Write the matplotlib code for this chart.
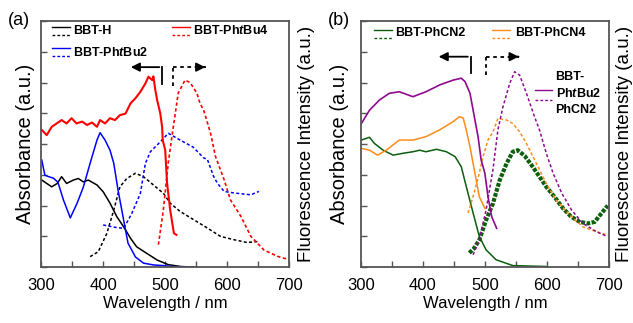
import matplotlib
matplotlib.use("Agg")
import matplotlib.pyplot as plt
import numpy as np

plt.rcParams['font.family'] = ['Liberation Sans', 'DejaVu Sans']
plt.rcParams['mathtext.fontset'] = 'custom'
plt.rcParams['mathtext.it'] = 'Liberation Sans:italic:bold'
plt.rcParams['mathtext.rm'] = 'Liberation Sans:bold'

# ---- panel (a) data (wavelength nm, normalised intensity) ----
h_abs_x = [301, 309, 317, 326, 333, 341, 352, 360, 368, 376, 390, 400, 411, 422, 433, 444, 454, 470, 487, 505, 525, 546]
h_abs_y = [2.83, 2.72, 2.61, 2.72, 2.94, 2.72, 2.83, 2.88, 2.77, 2.83, 2.67, 2.45, 2.08, 1.64, 1.31, 0.94, 0.66, 0.45, 0.23, 0.08, 0.02, 0.0]
h_fl_x = [379, 392, 406, 417, 427, 438, 452, 465, 481, 497, 508, 524, 546, 568, 589, 611, 632, 649]
h_fl_y = [0.34, 0.5, 1.1, 1.85, 2.61, 2.88, 3.05, 2.94, 2.67, 2.4, 2.08, 1.81, 1.54, 1.27, 1.0, 0.89, 0.8, 0.83]

tbu2_abs_x = [301, 306, 312, 320, 327, 336, 347, 358, 368, 379, 390, 395, 403, 411, 417, 424, 433, 440, 452, 465, 481, 497, 510, 551]
tbu2_abs_y = [3.48, 2.99, 2.94, 2.89, 2.76, 2.18, 1.6, 2.08, 2.6, 3.38, 4.13, 4.37, 4.13, 3.8, 3.38, 2.5, 1.53, 0.78, 0.33, 0.13, 0.07, 0.05, 0.02, 0.0]
tbu2_fl_x = [400, 417, 433, 446, 460, 468, 476, 492, 505, 524, 545, 562, 568, 578, 584, 595, 611, 638, 651]
tbu2_fl_y = [1.37, 1.3, 1.26, 1.74, 2.4, 3.37, 3.75, 4.07, 4.35, 4.13, 3.9, 3.55, 3.5, 2.95, 2.73, 2.46, 2.41, 2.35, 2.46]

tbu4_abs_x = [301, 309, 317, 325, 333, 341, 349, 357, 366, 374, 382, 390, 395, 403, 411, 419, 427, 436, 444, 452,
              460, 468, 473, 479, 481, 484, 487, 492, 495, 496, 500, 503, 508, 514, 518]
tbu4_abs_y = [4.46, 4.29, 4.56, 4.67, 4.78, 4.67, 4.84, 4.67, 4.73, 4.62, 4.7, 4.56, 4.78, 4.67, 4.84, 4.78, 4.94, 4.99, 5.32, 5.49,
              5.7, 5.97, 6.19, 6.08, 6.2, 5.76, 5.43, 5.0, 4.56, 4.13, 3.8, 2.73, 1.86, 1.1, 1.05]
tbu4_fl_x = [489, 497, 505, 513, 521, 532, 540, 551, 556, 562, 573, 581, 595, 605, 622, 638, 659, 681, 700]
tbu4_fl_y = [0.73, 1.86, 3.4, 4.55, 5.66, 6.08, 6.0, 5.66, 5.33, 5.1, 4.36, 3.6, 2.84, 2.19, 1.65, 1.0, 0.56, 0.35, 0.24]

# ---- panel (b) data ----
cn2_abs_x = [301, 314, 322, 336, 352, 368, 384, 395, 405, 422, 438, 452, 462, 470, 481, 491, 502, 518, 545, 599]
cn2_abs_y = [4.13, 4.22, 4.02, 3.8, 3.64, 3.7, 3.75, 3.8, 3.75, 3.83, 3.75, 3.59, 3.26, 2.62, 1.76, 1.0, 0.56, 0.24, 0.05, 0.02]
cn2_fl_x = [475, 482, 491, 502, 513, 524, 535, 545, 553, 564, 575, 588, 599, 612, 626, 639, 653, 666, 677, 688, 698]
cn2_fl_y = [0.46, 0.6, 0.88, 1.53, 2.07, 2.83, 3.37, 3.75, 3.8, 3.62, 3.32, 2.94, 2.61, 2.29, 1.91, 1.64, 1.47, 1.42, 1.47, 1.75, 2.0]

cn4_abs_x = [301, 314, 327, 341, 362, 384, 405, 427, 449, 459, 465, 470, 476, 481, 491, 500]
cn4_abs_y = [3.86, 3.8, 3.64, 3.8, 4.13, 4.13, 4.24, 4.46, 4.73, 4.89, 4.85, 4.46, 3.91, 3.37, 2.29, 1.91]
cn4_fl_x = [473, 481, 491, 497, 505, 513, 521, 535, 545, 556, 567, 583, 599, 615, 637, 658, 680, 698]
cn4_fl_y = [1.76, 2.3, 3.05, 3.59, 4.13, 4.4, 4.83, 4.78, 4.67, 4.4, 4.02, 3.37, 2.72, 2.18, 1.69, 1.31, 1.15, 1.04]

mix_abs_x = [301, 314, 330, 346, 362, 384, 405, 427, 449, 462, 468, 476, 483, 489, 494, 500, 505, 511, 519]
mix_abs_y = [4.67, 5.1, 5.43, 5.65, 5.7, 5.54, 5.7, 5.92, 6.08, 6.14, 6.03, 5.65, 4.89, 4.24, 3.48, 3.05, 2.29, 1.64, 1.26]
mix_fl_x = [481, 491, 502, 513, 521, 529, 540, 548, 556, 567, 580, 588, 599, 610, 624, 640, 658, 680, 698]
mix_fl_y = [0.4, 0.89, 1.86, 3.17, 4.46, 5.2, 5.97, 6.35, 6.24, 5.65, 4.89, 4.46, 3.7, 3.05, 2.4, 1.85, 1.42, 1.15, 0.99]

BLACK, BLUE, RED = 'black', '#0000ff', '#ff0000'
GREEN, ORANGE, PURPLE = '#0d5e0d', '#ff8c1a', '#8e0a8e'

fig = plt.figure(figsize=(6.33, 3.23), dpi=100)
ax1 = fig.add_axes([0.065, 0.173, 0.392, 0.762])
ax2 = fig.add_axes([0.570, 0.173, 0.392, 0.762])


def style(ax, lpad, rpad):
    ax.set_xlim(300, 700)
    ax.set_ylim(0, 8)
    ax.set_xticks(np.arange(300, 701, 100))
    ax.set_xticks(np.arange(350, 700, 100), minor=True)
    ax.set_yticks(np.arange(0, 9, 1))
    ax.set_yticklabels([])
    ax.tick_params(axis='x', which='both', direction='in', length=4, width=1, colors='#555555',
                   labelcolor='black', labelsize=12, pad=8)
    ax.tick_params(axis='y', direction='in', length=4, width=1, left=True, right=True, colors='#555555')
    for s in ax.spines.values():
        s.set_color('#555555')
        s.set_linewidth(1.3)
    ax.set_xlabel('Wavelength / nm', fontsize=12, labelpad=2)
    ax.set_ylabel('Absorbance (a.u.)', fontsize=14.5, labelpad=lpad)
    ax2r = ax.twinx()
    ax2r.set_ylim(0, 8)
    ax2r.set_yticks([])
    ax2r.set_ylabel('Fluorescence Intensity (a.u.)', fontsize=13.5, labelpad=rpad)
    for s in ax2r.spines.values():
        s.set_visible(False)


def arrows(ax, xl, xl_tip, yl0, xr, xr_tip, yr0, ytop):
    ax.plot([xl, xl], [yl0, ytop], color='black', lw=1.3)
    ax.annotate('', xy=(xl_tip, ytop), xytext=(xl, ytop),
                arrowprops=dict(arrowstyle='-|>', color='black', lw=1.3, mutation_scale=13))
    ax.plot([xr, xr], [yr0, ytop], color='black', lw=1.3, ls=(0, (2, 2)))
    ax.plot([xr, xr_tip - 10], [ytop, ytop], color='black', lw=1.3, ls=(0, (2, 2)))
    ax.annotate('', xy=(xr_tip, ytop), xytext=(xr_tip - 10, ytop),
                arrowprops=dict(arrowstyle='-|>', color='black', lw=1.3, mutation_scale=13))


def legend_entry(ax, x0, x1, y_solid, y_dash, color, tx, ty, text):
    ax.plot([x0, x1], [y_solid, y_solid], color=color, lw=1)
    ax.plot([x0, x1], [y_dash, y_dash], color=color, lw=1, ls=(0, (2, 1.5)))
    ax.text(tx, ty, text, fontsize=9, fontweight='bold', va='center', ha='left')


# ---- panel (a) ----
style(ax1, 1, 6)
ax1.plot(h_abs_x, h_abs_y, color=BLACK, lw=1.1)
ax1.plot(h_fl_x, h_fl_y, color=BLACK, lw=1.1, ls=(0, (2, 1.5)))
ax1.plot(tbu2_abs_x, tbu2_abs_y, color=BLUE, lw=1.1)
ax1.plot(tbu2_fl_x, tbu2_fl_y, color=BLUE, lw=1.1, ls=(0, (2, 1.5)))
ax1.plot(tbu4_abs_x, tbu4_abs_y, color=RED, lw=1.5)
ax1.plot(tbu4_fl_x, tbu4_fl_y, color=RED, lw=1.2, ls=(0, (2, 1.5)))
arrows(ax1, 495, 440, 5.95, 513, 569, 5.89, 6.5)
legend_entry(ax1, 318, 347, 7.8, 7.56, BLACK, 352, 7.68, 'BBT-H')
legend_entry(ax1, 318, 347, 7.12, 6.85, BLUE, 352, 6.99, r'BBT-Ph$t$Bu2')
legend_entry(ax1, 511, 540, 7.8, 7.56, RED, 545, 7.68, r'BBT-Ph$t$Bu4')
fig.text(0.012, 0.935, '(a)', fontsize=13, va='center')

# ---- panel (b) ----
style(ax2, 5, 5)
ax2.plot(cn2_abs_x, cn2_abs_y, color=GREEN, lw=1.1)
ax2.plot(cn2_fl_x, cn2_fl_y, color=GREEN, lw=3, ls=(0, (0.9, 0.35)))
ax2.plot(cn4_abs_x, cn4_abs_y, color=ORANGE, lw=1.1)
ax2.plot(cn4_fl_x, cn4_fl_y, color=ORANGE, lw=1.1, ls=(0, (2, 1.5)))
ax2.plot(mix_abs_x, mix_abs_y, color=PURPLE, lw=1.2)
ax2.plot(mix_fl_x, mix_fl_y, color=PURPLE, lw=1.1, ls=(0, (2, 1.5)))
arrows(ax2, 477, 421, 6.3, 502, 559, 6.24, 6.84)
legend_entry(ax2, 322, 351, 7.71, 7.45, GREEN, 356, 7.6, 'BBT-PhCN2')
legend_entry(ax2, 512, 541, 7.71, 7.45, ORANGE, 548, 7.6, 'BBT-PhCN4')
ax2.plot([580, 609], [5.76, 5.76], color=PURPLE, lw=1)
ax2.plot([580, 609], [5.43, 5.43], color=PURPLE, lw=1, ls=(0, (2, 1.5)))
ax2.text(614, 6.19, 'BBT-', fontsize=9, fontweight='bold', va='center')
ax2.text(614, 5.65, r'Ph$t$Bu2', fontsize=9, fontweight='bold', va='center')
ax2.text(614, 5.1, 'PhCN2', fontsize=9, fontweight='bold', va='center')
fig.text(0.518, 0.935, '(b)', fontsize=13, va='center')

fig.savefig('out.png', dpi=100)
